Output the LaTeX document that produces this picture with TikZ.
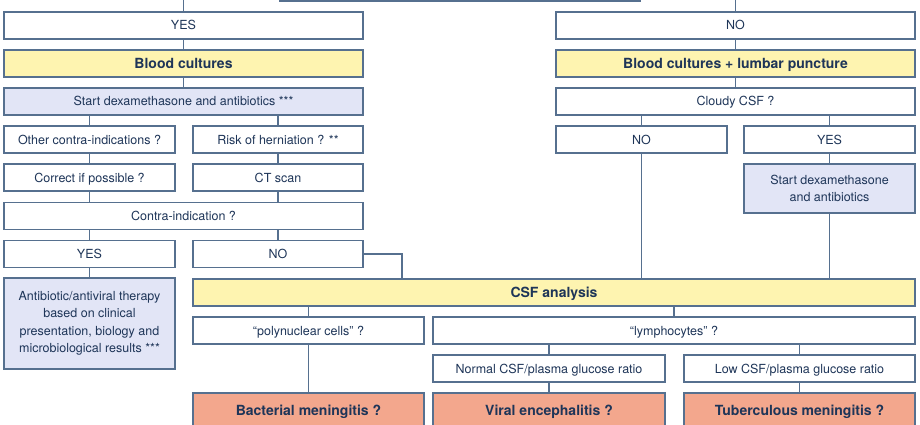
\documentclass[tikz,border=0pt]{standalone}
\usepackage{fontspec}
\setmainfont{TeX Gyre Heros}
\usetikzlibrary{calc}
\definecolor{edge}{HTML}{56708F}
\definecolor{ink}{HTML}{1E3558}
\definecolor{yel}{HTML}{FEF4B0}
\definecolor{lav}{HTML}{E2E5F6}
\definecolor{sal}{HTML}{F3A78D}
\begin{document}
\begin{tikzpicture}[x=1pt,y=-1pt,
  box/.style={draw=edge, line width=1.1pt, fill=white, inner sep=0pt, outer sep=0pt,
    text=ink, font=\fontsize{12.5}{17.4}\selectfont, align=center},
  one/.style={text height=9pt, text depth=0pt},
  ybox/.style={box, one, fill=yel, font=\fontsize{14}{16}\selectfont\bfseries, text height=10pt},
  lbox/.style={box, fill=lav},
  sbox/.style={box, one, fill=sal, font=\fontsize{14}{16}\selectfont\bfseries, text height=10pt},
  conn/.style={draw=edge, line width=1.1pt}]
\useasboundingbox (0,0) rectangle (920,425);
\clip (0,0) rectangle (920,425);
% top (cut off) box
\node[box, minimum width=360pt, minimum height=42pt] (top) at (460,-20) {};
\coordinate (inL) at (183.5,0);
\coordinate (inR) at (735.5,0);
% left column
\node[box, one, minimum width=359pt, minimum height=27pt] (yesA) at (183.5,25.5) {YES};
\node[ybox, minimum width=359pt, minimum height=27pt] (bcL) at (183.5,63.5) {Blood cultures};
\node[lbox, one, minimum width=359pt, minimum height=27pt] (dexL) at (183.5,101.5) {Start dexamethasone and antibiotics ***};
\node[box, one, minimum width=171pt, minimum height=27pt] (otherCI) at (89.5,139.5) {Other contra-indications ?};
\node[box, one, minimum width=170pt, minimum height=27pt] (risk) at (278,139.5) {Risk of herniation ? **};
\node[box, one, minimum width=171pt, minimum height=27pt] (correct) at (89.5,177.5) {Correct if possible ?};
\node[box, one, minimum width=170pt, minimum height=27pt] (ct) at (278,177.5) {CT scan};
\node[box, one, minimum width=359pt, minimum height=27pt] (contra) at (183.5,216) {Contra-indication ?};
\node[box, one, minimum width=171pt, minimum height=27pt] (yesC) at (89.5,254) {YES};
\node[box, one, minimum width=170pt, minimum height=27pt] (noC) at (278,254) {NO};
\node[lbox, minimum width=171pt, minimum height=91pt] (anti) at (89.5,323.5) {Antibiotic/antiviral therapy\\based on clinical\\presentation, biology and\\microbiological results ***};
% right column
\node[box, one, minimum width=359pt, minimum height=27pt] (noA) at (735.5,25.5) {NO};
\node[ybox, minimum width=359pt, minimum height=27pt] (bcR) at (735.5,63.5) {Blood cultures + lumbar puncture};
\node[box, one, minimum width=359pt, minimum height=27pt] (cloudy) at (735.5,101.5) {Cloudy CSF ?};
\node[box, one, minimum width=171pt, minimum height=27pt] (noB) at (641.5,139.5) {NO};
\node[box, one, minimum width=171pt, minimum height=27pt] (yesB) at (829.5,139.5) {YES};
\node[lbox, minimum width=171pt, minimum height=49pt] (dexR) at (829.5,188.5) {Start dexamethasone\\and antibiotics};
% CSF analysis
\node[ybox, minimum width=722pt, minimum height=27pt] (csf) at (554,292.5) {CSF analysis};
\node[box, one, minimum width=231pt, minimum height=27pt] (poly) at (308.5,330.5) {“polynuclear cells” ?};
\node[box, one, minimum width=482pt, minimum height=27pt] (lymph) at (674,330.5) {“lymphocytes” ?};
\node[box, one, minimum width=232pt, minimum height=27pt] (normal) at (549,368.5) {Normal CSF/plasma glucose ratio};
\node[box, one, minimum width=231pt, minimum height=27pt] (low) at (799.5,368.5) {Low CSF/plasma glucose ratio};
\node[sbox, minimum width=231pt, minimum height=35pt] (bact) at (308.5,410.5) {Bacterial meningitis ?};
\node[sbox, minimum width=232pt, minimum height=35pt] (viral) at (549,410.5) {Viral encephalitis ?};
\node[sbox, minimum width=231pt, minimum height=35pt] (tb) at (799.5,410.5) {Tuberculous meningitis ?};
% connectors left
\draw[conn] (inL) -- (yesA.north);
\draw[conn] (yesA) -- (bcL);
\draw[conn] (bcL) -- (dexL);
\draw[conn] (otherCI.north |- dexL.south) -- (otherCI.north);
\draw[conn] (risk.north |- dexL.south) -- (risk.north);
\draw[conn] (otherCI) -- (correct);
\draw[conn] (risk) -- (ct);
\draw[conn] (correct.south) -- (correct.south |- contra.north);
\draw[conn] (ct.south) -- (ct.south |- contra.north);
\draw[conn] (yesC.north |- contra.south) -- (yesC.north);
\draw[conn] (noC.north |- contra.south) -- (noC.north);
\draw[conn] (yesC) -- (anti);
\draw[conn] (noC.east) -| ([xshift=209pt]csf.north west);
% connectors right
\draw[conn] (inR) -- (noA.north);
\draw[conn] (noA) -- (bcR);
\draw[conn] (bcR) -- (cloudy);
\draw[conn] (noB.north |- cloudy.south) -- (noB.north);
\draw[conn] (yesB.north |- cloudy.south) -- (yesB.north);
\draw[conn] (yesB) -- (dexR);
\draw[conn] (noB.south) -- (noB.south |- csf.north);
\draw[conn] (dexR.south) -- (dexR.south |- csf.north);
% connectors bottom
\draw[conn] (poly.north |- csf.south) -- (poly.north);
\draw[conn] (lymph.north |- csf.south) -- (lymph.north);
\draw[conn] (poly) -- (bact);
\draw[conn] (normal.north |- lymph.south) -- (normal.north);
\draw[conn] (low.north |- lymph.south) -- (low.north);
\draw[conn] (normal) -- (viral);
\draw[conn] (low) -- (tb);
\end{tikzpicture}
\end{document}
